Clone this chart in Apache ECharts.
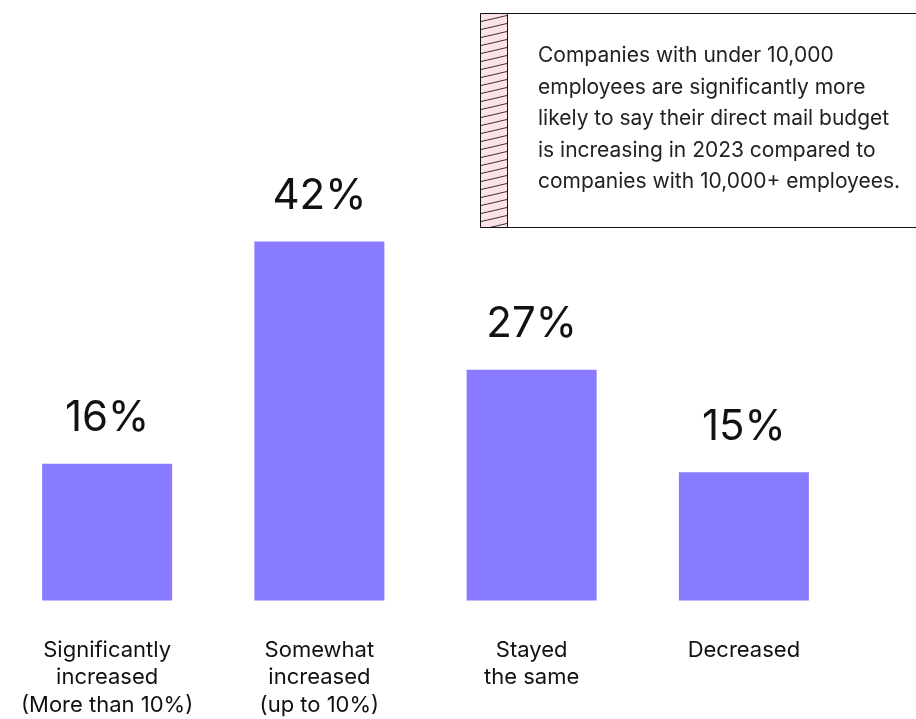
<!DOCTYPE html>
<html>
<head>
<meta charset="utf-8">
<script src="https://cdn.jsdelivr.net/npm/echarts@6/dist/echarts.min.js"></script>
<style>
html,body{margin:0;padding:0;background:#fff;}
#chart{width:916px;height:719px;}
</style>
</head>
<body>
<div id="chart"></div>
<script>
const categories = ['Significantly\nincreased\n(More than 10%)', 'Somewhat\nincreased\n(up to 10%)', 'Stayed\nthe same', 'Decreased'];
const values = [16, 42, 27, 15];
const noteLines = [
  'Companies with under 10,000',
  'employees are significantly more',
  'likely to say their direct mail budget',
  'is increasing in 2023 compared to',
  'companies with 10,000+ employees.'
];

const FONT = 'Inter, "Noto Sans", sans-serif';

// hatch pattern tile
const tile = document.createElement('canvas');
tile.width = 26; tile.height = 8;
const tc = tile.getContext('2d');
tc.fillStyle = '#fde3e8';
tc.fillRect(0, 0, 26, 8);
tc.strokeStyle = '#333';
tc.lineWidth = 1;
tc.beginPath();
tc.moveTo(0, 7.5); tc.lineTo(26, 1.5);
tc.stroke();

const chart = echarts.init(document.getElementById('chart'));
chart.setOption({
  animation: false,
  backgroundColor: '#ffffff',
  grid: { left: 1, width: 849, top: 173, bottom: 107, containLabel: false },
  xAxis: {
    type: 'category',
    data: categories,
    axisLine: { show: false },
    axisTick: { show: false },
    axisLabel: {
      margin: 36,
      fontFamily: FONT,
      fontSize: 22,
      lineHeight: 27.5,
      color: '#111',
      align: 'center',
      interval: 0
    }
  },
  yAxis: {
    type: 'value',
    min: 0, max: 50,
    show: false,
    splitLine: { show: false }
  },
  series: [{
    type: 'bar',
    data: values,
    barWidth: 130,
    itemStyle: { color: '#887bff' },
    label: {
      show: true,
      position: 'top',
      distance: 24,
      formatter: '{c}%',
      fontFamily: FONT,
      fontSize: 42,
      color: '#111'
    }
  }],
  graphic: [
    {
      type: 'rect',
      shape: { x: 480.5, y: 13.5, width: 460, height: 214 },
      style: { fill: '#fff', stroke: '#111', lineWidth: 1 }
    },
    {
      type: 'rect',
      position: [481, 14],
      shape: { x: 0, y: 0, width: 26, height: 213 },
      style: { fill: { image: tile, repeat: 'repeat' } }
    },
    {
      type: 'line',
      shape: { x1: 507.5, y1: 13.5, x2: 507.5, y2: 227.5 },
      style: { stroke: '#111', lineWidth: 1 }
    },
    {
      type: 'text',
      left: 538,
      top: 40,
      style: {
        text: noteLines.join('\n'),
        fontFamily: FONT,
        fontSize: 21,
        lineHeight: 31.5,
        fill: '#222'
      }
    }
  ]
});
</script>
</body>
</html>
